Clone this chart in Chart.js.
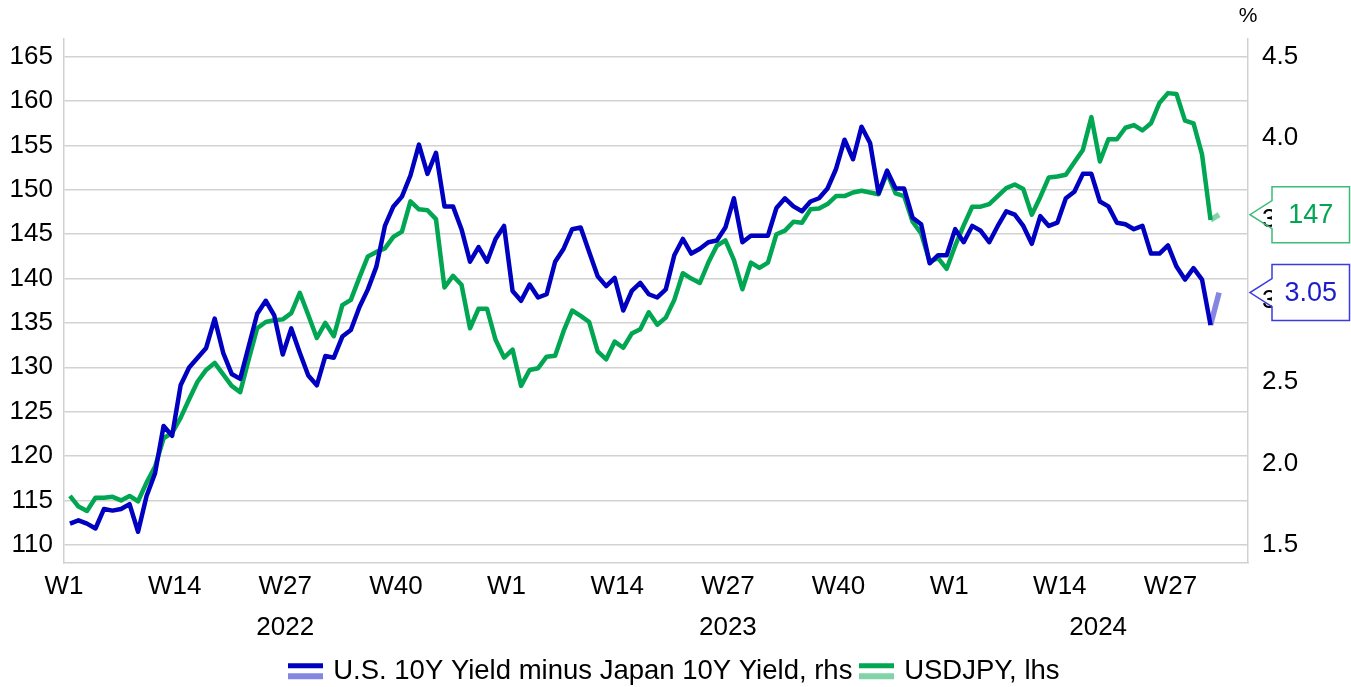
<!DOCTYPE html>
<html>
<head>
<meta charset="utf-8">
<script src="https://cdn.jsdelivr.net/npm/chart.js@4.4.1/dist/chart.umd.min.js"></script>
<style>
  html, body { margin: 0; padding: 0; background: #fff; }
  #wrap { width: 1351px; height: 687px; }
</style>
</head>
<body>
<div id="wrap"><canvas id="chart"></canvas></div>
<script>
// --- data ---
const years = ['2022', '2023', '2024'];
const weeksShown = [52, 52, 35];
const weekTicks = [1, 14, 27, 40];
const leftTicks = [110, 115, 120, 125, 130, 135, 140, 145, 150, 155, 160, 165];
const rightTicks = [1.5, 2.0, 2.5, 3.0, 3.5, 4.0, 4.5];

// US 10Y minus JGB 10Y, % (rhs), weekly from W1 2022
const spread = [
  1.63, 1.65, 1.63, 1.60, 1.72, 1.71, 1.72, 1.75, 1.58, 1.80,
  1.94, 2.23, 2.17, 2.48, 2.59, 2.65, 2.71, 2.89, 2.68, 2.55,
  2.52, 2.72, 2.92, 3.00, 2.91, 2.67, 2.83, 2.68, 2.54, 2.48,
  2.66, 2.65, 2.78, 2.82, 2.96, 3.07, 3.21, 3.46, 3.58, 3.64,
  3.77, 3.96, 3.78, 3.91, 3.58, 3.58, 3.44, 3.24, 3.33, 3.24,
  3.38, 3.46, 3.06, 3.00, 3.10, 3.02, 3.04, 3.24, 3.32, 3.44,
  3.45, 3.30, 3.15, 3.09, 3.14, 2.94, 3.06, 3.11, 3.04, 3.02,
  3.07, 3.28, 3.38, 3.29, 3.32, 3.36, 3.37, 3.45, 3.63, 3.36,
  3.40, 3.40, 3.40, 3.57, 3.63, 3.58, 3.55, 3.61, 3.63, 3.69,
  3.81, 3.99, 3.87, 4.07, 3.97, 3.66, 3.80, 3.69, 3.69, 3.51,
  3.47, 3.23, 3.28, 3.28, 3.44, 3.36, 3.46, 3.43, 3.36, 3.46,
  3.55, 3.53, 3.46, 3.35, 3.52, 3.46, 3.48, 3.63, 3.67, 3.78,
  3.78, 3.61, 3.58, 3.48, 3.47, 3.44, 3.46, 3.29, 3.29, 3.34,
  3.21, 3.13, 3.20, 3.13, 2.85
];

// USDJPY (lhs), weekly from W1 2022
const usdjpy = [
  115.5, 114.3, 113.8, 115.3, 115.3, 115.4, 115.0, 115.5, 114.9, 117.0,
  118.8, 122.0, 122.6, 124.3, 126.4, 128.4, 129.7, 130.5, 129.2, 127.9,
  127.2, 130.9, 134.4, 135.1, 135.3, 135.4, 136.1, 138.4, 135.9, 133.3,
  135.0, 133.5, 137.0, 137.6, 140.1, 142.5, 143.0, 143.4, 144.7, 145.3,
  148.7, 147.8, 147.7, 146.7, 139.0, 140.3, 139.3, 134.4, 136.6, 136.6,
  133.1, 131.1, 132.0, 127.9, 129.7, 129.9, 131.2, 131.3, 134.1, 136.4,
  135.8, 135.1, 131.8, 130.9, 132.9, 132.2, 133.8, 134.3, 136.2, 134.8,
  135.6, 137.6, 140.6, 140.0, 139.5, 141.8, 143.7, 144.3, 142.1, 138.8,
  141.8, 141.2, 141.8, 145.0, 145.4, 146.4, 146.3, 147.8, 147.9, 148.4,
  149.3, 149.3, 149.7, 149.9, 149.7, 149.5, 151.9, 149.6, 149.3, 146.4,
  145.1, 141.9, 142.3, 141.1, 143.7, 146.0, 148.1, 148.1, 148.4, 149.3,
  150.2, 150.6, 150.1, 147.2, 149.2, 151.4, 151.5, 151.7, 153.1, 154.5,
  158.2, 153.2, 155.7, 155.7, 157.0, 157.3, 156.7, 157.5, 159.8, 160.9,
  160.8, 157.8, 157.5, 154.0, 146.6
];

// latest readings (light segment)
const spreadLatest = [3.05];
const usdjpyLatest = [147.2];

// --- styles ---
const FONT = "Arial, 'Liberation Sans', sans-serif";
const BLUE = '#0000C0';
const BLUE_LIGHT = '#8585E2';
const GREEN = '#00A651';
const GREEN_LIGHT = '#80D4A8';
const GRID = '#d2d2d2';

Chart.defaults.font.family = FONT;
Chart.defaults.font.size = 26;
Chart.defaults.color = '#000';

const toPoints = arr => arr.map((v, i) => ({ x: i, y: v }));
const latestPoints = (arr, latest) => {
  const n = arr.length;
  return [{ x: n - 1, y: arr[n - 1] }].concat(latest.map((v, k) => ({ x: n + k, y: v })));
};

const legendSwatch = (dark, light) => {
  const c = document.createElement('canvas');
  c.width = 35;
  c.height = 22;
  const g = c.getContext('2d');
  g.fillStyle = dark;
  g.fillRect(0, 3, 35, 5);
  g.fillStyle = light;
  g.fillRect(0, 13, 35, 6);
  return c;
};

// tick positions: W1/W14/W27/W40 of every year
const yearStarts = weeksShown.map((w, k) => weeksShown.slice(0, k).reduce((a, b) => a + b, 0));
const xTicks = [];
yearStarts.forEach((s, k) => {
  weekTicks.forEach(w => {
    if (w <= weeksShown[k]) xTicks.push({ value: s + w - 1, label: 'W' + w });
  });
});

const extras = {
  id: 'extras',
  afterLayout(chart) {
    chart.legend.top += 8;
    chart.legend.bottom += 8;
  },
  afterDraw(chart) {
    const { ctx, chartArea, scales } = chart;
    ctx.save();

    // year labels
    ctx.font = '26px ' + FONT;
    ctx.fillStyle = '#000';
    ctx.textAlign = 'center';
    ctx.textBaseline = 'middle';
    years.forEach((yr, k) => {
      const x = scales.x.getPixelForValue(yearStarts[k] + weeksShown[k] / 2) - 6;
      ctx.fillText(yr, x, 628);
    });

    // unit of right axis
    ctx.font = '21px ' + FONT;
    ctx.fillText('%', chartArea.right, 16);

    // callouts with latest values
    const callout = (yPix, text, border, color) => {
      const tip = chartArea.right + 2;
      const x0 = chartArea.right + 24;
      const x1 = chart.width - 1.5;
      const top = yPix - 28;
      const bot = yPix + 28;
      ctx.fillStyle = '#fff';
      ctx.fillRect(x0, top, x1 - x0, bot - top);
      ctx.beginPath();
      ctx.moveTo(x0, yPix - 14);
      ctx.lineTo(x0, top);
      ctx.lineTo(x1, top);
      ctx.lineTo(x1, bot);
      ctx.lineTo(x0, bot);
      ctx.lineTo(x0, yPix + 14);
      ctx.lineTo(tip, yPix);
      ctx.closePath();
      ctx.strokeStyle = border;
      ctx.lineWidth = 1.5;
      ctx.stroke();
      ctx.fillStyle = color;
      ctx.font = '27px ' + FONT;
      ctx.textAlign = 'center';
      ctx.textBaseline = 'middle';
      ctx.fillText(text, (x0 + x1) / 2, yPix + 1);
    };
    callout(scales.y.getPixelForValue(usdjpyLatest[0]), String(Math.round(usdjpyLatest[0])), '#3DBB78', '#00A651');
    callout(scales.y1.getPixelForValue(spreadLatest[0]), spreadLatest[0].toFixed(2), '#3B3BE0', '#1C1CCC');

    ctx.restore();
  }
};

new Chart(document.getElementById('chart'), {
  type: 'line',
  data: {
    datasets: [
      {
        label: 'U.S. 10Y Yield minus Japan 10Y Yield, rhs',
        data: toPoints(spread),
        yAxisID: 'y1',
        borderColor: BLUE,
        backgroundColor: BLUE,
        borderWidth: 4.5,
        pointRadius: 0,
        pointStyle: legendSwatch(BLUE, BLUE_LIGHT),
        borderJoinStyle: 'round',
        tension: 0,
      },
      {
        label: 'spread latest',
        inLegend: false,
        data: latestPoints(spread, spreadLatest),
        yAxisID: 'y1',
        borderColor: BLUE_LIGHT,
        borderWidth: 5.5,
        pointRadius: 0,
        tension: 0,
      },
      {
        label: 'USDJPY, lhs',
        data: toPoints(usdjpy),
        yAxisID: 'y',
        borderColor: GREEN,
        backgroundColor: GREEN,
        borderWidth: 4.5,
        pointRadius: 0,
        pointStyle: legendSwatch(GREEN, GREEN_LIGHT),
        borderJoinStyle: 'round',
        tension: 0,
      },
      {
        label: 'usdjpy latest',
        inLegend: false,
        data: latestPoints(usdjpy, usdjpyLatest),
        yAxisID: 'y',
        borderColor: GREEN_LIGHT,
        borderWidth: 5.5,
        pointRadius: 0,
        tension: 0,
      },
    ],
  },
  options: {
    responsive: true,
    maintainAspectRatio: false,
    animation: false,
    devicePixelRatio: 1,
    layout: { padding: { top: 39, left: 0, right: 0, bottom: 0 } },
    plugins: {
      title: { display: false },
      tooltip: { enabled: false },
      legend: {
        position: 'bottom',
        labels: {
          usePointStyle: true,
          pointStyleWidth: 28,
          padding: 10,
          color: '#000',
          font: { size: 27.5 },
          filter: (item, data) => data.datasets[item.datasetIndex].inLegend !== false,
        },
      },
    },
    scales: {
      x: {
        type: 'linear',
        min: -0.7,
        max: 138.4,
        bounds: 'data',
        grid: { display: false, drawTicks: false },
        border: { display: true, color: GRID, width: 1.5 },
        afterBuildTicks: ax => {
          ax.ticks = xTicks.map(t => ({ value: t.value }));
        },
        ticks: {
          autoSkip: false,
          maxRotation: 0,
          padding: 9,
          labelOffset: -6,
          callback: (v, i) => xTicks[i].label,
        },
        afterFit: ax => {
          ax.height = 77;
        },
      },
      y: {
        position: 'left',
        min: 108,
        max: 167,
        bounds: 'data',
        afterBuildTicks: ax => {
          ax.ticks = leftTicks.map(v => ({ value: v }));
        },
        grid: { color: GRID, lineWidth: 1.5, drawTicks: false },
        border: { display: true, color: GRID, width: 1.5 },
        ticks: { padding: 11 },
        afterFit: ax => {
          ax.width = 64;
        },
      },
      y1: {
        position: 'right',
        min: 1.5 - 2 / (55 / 3),
        max: 4.5 + 2 / (55 / 3),
        bounds: 'data',
        afterBuildTicks: ax => {
          ax.ticks = rightTicks.map(v => ({ value: v }));
        },
        grid: { drawOnChartArea: false, drawTicks: false },
        border: { display: true, color: GRID, width: 1.5 },
        ticks: {
          padding: 14,
          callback: v => Number(v).toFixed(1),
        },
        afterFit: ax => {
          ax.width = 103;
        },
      },
    },
  },
  plugins: [extras],
});
</script>
</body>
</html>
